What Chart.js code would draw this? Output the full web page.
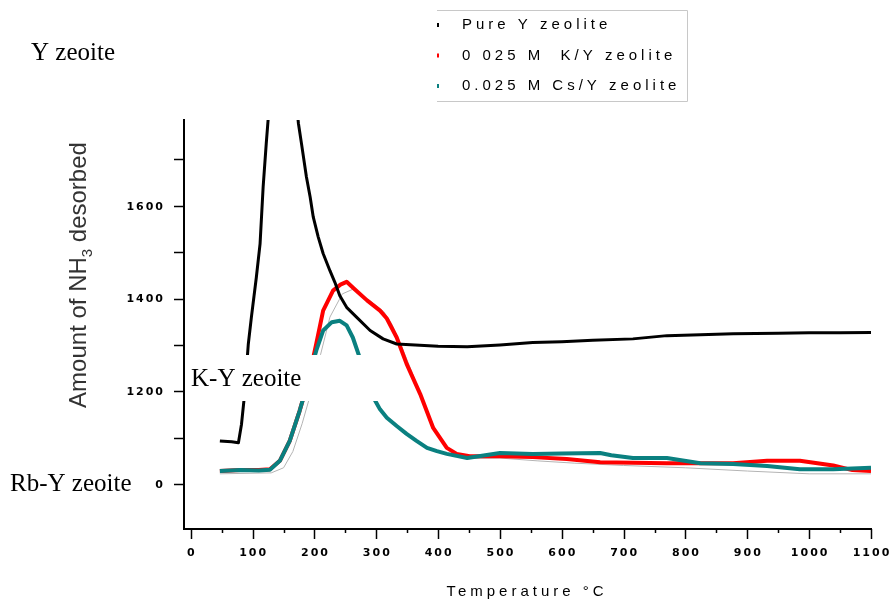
<!DOCTYPE html>
<html>
<head>
<meta charset="utf-8">
<script src="https://cdn.jsdelivr.net/npm/chart.js@4/dist/chart.umd.min.js"></script>
<style>
  html, body { margin: 0; padding: 0; background: #fff; }
  #wrap { width: 894px; height: 602px; }
</style>
</head>
<body>
<div id="wrap"><canvas id="tpd" width="894" height="602"></canvas></div>
<script>
// ---- data (temperature in °C, amount desorbed) ----
const pureT = [47, 66, 77, 82, 87, 93, 98, 106, 112, 117, 122, 125, 135, 150, 162, 174, 179, 187, 193, 198, 206, 214, 225, 233, 241, 252, 268, 290, 311, 333, 400, 447, 500, 553, 600, 650, 715, 770, 824, 877, 950, 1000, 1050, 1100];
const pureV = [1093, 1091, 1089, 1129, 1194, 1302, 1360, 1446, 1518, 1641, 1734, 1785, 1980, 2050, 1950, 1778, 1734, 1662, 1619, 1576, 1533, 1497, 1460, 1435, 1406, 1381, 1360, 1331, 1313, 1302, 1297, 1296, 1300, 1305, 1307, 1310, 1313, 1320, 1322, 1324, 1325, 1326, 1326, 1327];

const kT = [47, 80, 110, 128, 144, 160, 176, 187, 196, 203, 214, 230, 242, 252, 265, 285, 306, 317, 333, 349, 371, 392, 414, 430, 451, 500, 553, 608, 662, 715, 770, 824, 877, 932, 985, 1039, 1070, 1100];
const kV = [1028, 1030, 1030, 1032, 1050, 1093, 1158, 1208, 1260, 1303, 1374, 1417, 1430, 1436, 1420, 1396, 1374, 1357, 1316, 1259, 1194, 1121, 1078, 1065, 1060, 1060, 1058, 1054, 1047, 1046, 1045, 1045, 1045, 1050, 1050, 1040, 1030, 1028];

const csT = [47, 80, 110, 128, 144, 160, 176, 187, 196, 203, 214, 228, 241, 252, 262, 273, 285, 298, 306, 317, 333, 349, 365, 382, 398, 414, 447, 500, 553, 600, 662, 680, 715, 770, 824, 877, 932, 985, 1039, 1100];
const csV = [1028, 1030, 1029, 1031, 1050, 1093, 1158, 1208, 1255, 1288, 1331, 1349, 1352, 1342, 1316, 1273, 1225, 1180, 1161, 1143, 1125, 1108, 1093, 1078, 1071, 1065, 1056, 1067, 1065, 1066, 1067, 1062, 1056, 1056, 1045, 1043, 1039, 1032, 1032, 1035];

// faint grey trace that runs beside the coloured curves
const greyT = [47, 130, 150, 165, 180, 195, 210, 225, 245, 262, 290, 312, 325, 340, 358, 378, 398, 420, 445, 500, 560, 620, 700, 800, 900, 1000, 1100];
const greyV = [1022, 1024, 1035, 1070, 1130, 1200, 1280, 1360, 1410, 1420, 1395, 1372, 1345, 1300, 1240, 1170, 1110, 1072, 1055, 1056, 1050, 1045, 1040, 1035, 1028, 1022, 1022];

const xTicks = [0, 100, 200, 300, 400, 500, 600, 700, 800, 900, 1000, 1100];
const yTicks = [1000, 1200, 1400, 1600];
const legendLabels = ["Pure Y zeolite", "0 025 M  K/Y zeolite", "0.025 M Cs/Y zeolite"];
const legendColors = ["#000000", "#ff0000", "#0a8080"];

const toXY = (t, v) => t.map((x, i) => ({ x: x, y: v[i] }));

// axes, tick labels, legend box and the pasted-on labels
const decor = {
  id: "decor",
  afterDraw(chart) {
    const ctx = chart.ctx;
    const xs = chart.scales.x, ys = chart.scales.y;
    const area = chart.chartArea;
    ctx.save();

    // tick marks
    ctx.strokeStyle = "#000";
    ctx.lineWidth = 1.5;
    for (let v = 0; v <= 1100; v += 50) {
      const px = Math.round(xs.getPixelForValue(v)) + 0.5;
      const len = v % 100 === 0 ? 10 : 4;
      ctx.beginPath();
      ctx.moveTo(px, area.bottom);
      ctx.lineTo(px, area.bottom + len);
      ctx.stroke();
    }
    for (let v = 900; v <= 1700; v += 100) {
      const py = Math.round(ys.getPixelForValue(v)) + 0.5;
      if (py > area.bottom - 2) continue;
      ctx.beginPath();
      ctx.moveTo(area.left - 10, py);
      ctx.lineTo(area.left, py);
      ctx.stroke();
    }

    // tick labels
    ctx.fillStyle = "#000";
    ctx.font = "bold 11px 'DejaVu Sans', sans-serif";
    ctx.letterSpacing = "2px";
    ctx.textBaseline = "middle";
    ctx.textAlign = "center";
    xTicks.forEach(v => {
      ctx.fillText(String(v), xs.getPixelForValue(v) + 1, area.bottom + 24);
    });
    ctx.textAlign = "right";
    yTicks.forEach(v => {
      ctx.fillText(String(v), area.left - 19, ys.getPixelForValue(v) + 1);
    });

    // axis titles
    ctx.font = "15px 'Liberation Sans', Arial, sans-serif";
    ctx.letterSpacing = "4px";
    ctx.textAlign = "center";
    ctx.fillText("Temperature °C", 527, 592);

    ctx.letterSpacing = "0px";
    ctx.save();
    ctx.translate(79, 275);
    ctx.rotate(-Math.PI / 2);
    ctx.fillStyle = "#333";
    ctx.textAlign = "left";
    const big = "24px 'Liberation Sans', Arial, sans-serif";
    const small = "15px 'Liberation Sans', Arial, sans-serif";
    const p1 = "Amount of NH", p2 = " desorbed";
    ctx.font = big;
    const w1 = ctx.measureText(p1).width;
    const w2 = ctx.measureText(p2).width;
    ctx.font = small;
    const ws = ctx.measureText("3").width;
    const start = -(w1 + ws + w2) / 2;
    ctx.font = big;
    ctx.fillText(p1, start, 0);
    ctx.font = small;
    ctx.fillText("3", start + w1, 9);
    ctx.font = big;
    ctx.fillText(p2, start + w1 + ws, 0);
    ctx.restore();

    // legend box
    ctx.strokeStyle = "#c8c8c8";
    ctx.lineWidth = 1;
    ctx.beginPath();
    ctx.moveTo(437, 10.5); ctx.lineTo(687.5, 10.5); ctx.lineTo(687.5, 101.5); ctx.lineTo(437, 101.5);
    ctx.stroke();
    ctx.font = "15px 'Liberation Sans', Arial, sans-serif";
    ctx.letterSpacing = "4px";
    ctx.textAlign = "left";
    legendLabels.forEach((lab, i) => {
      const ly = 25 + i * 30.5;
      ctx.fillStyle = legendColors[i];
      ctx.fillRect(437, ly - 2, 2, 4);
      ctx.fillStyle = "#000";
      ctx.fillText(lab, 462, ly);
    });
    ctx.letterSpacing = "0px";

    // pasted labels on white patches
    ctx.fillStyle = "#fff";
    ctx.fillRect(188, 355, 192, 46);
    ctx.fillRect(0, 468, 154, 30);
    ctx.fillStyle = "#000";
    ctx.font = "25px 'Liberation Serif', 'Times New Roman', serif";
    ctx.textAlign = "left";
    ctx.fillText("Y zeoite", 31, 53);
    ctx.fillText("K-Y zeoite", 191, 379);
    ctx.fillText("Rb-Y zeoite", 10, 484);

    ctx.restore();
  }
};

new Chart(document.getElementById("tpd"), {
  type: "line",
  data: {
    datasets: [
      { label: legendLabels[0], data: toXY(pureT, pureV), borderColor: "#000", borderWidth: 3, order: 0 },
      { label: legendLabels[2], data: toXY(csT, csV), borderColor: "#0a8080", borderWidth: 4, order: 1 },
      { label: legendLabels[1], data: toXY(kT, kV), borderColor: "#ff0000", borderWidth: 4, order: 2 },
      { label: "grey", data: toXY(greyT, greyV), borderColor: "#b4b4b4", borderWidth: 1, order: 3 }
    ]
  },
  options: {
    responsive: false,
    devicePixelRatio: 1,
    animation: false,
    events: [],
    elements: { point: { radius: 0 }, line: { tension: 0, borderJoinStyle: "round" } },
    layout: { padding: { left: 0, right: 23, top: 120, bottom: 0 } },
    plugins: { legend: { display: false }, tooltip: { enabled: false }, title: { display: false } },
    scales: {
      x: {
        type: "linear",
        min: -11,
        max: 1100,
        grid: { display: false },
        border: { display: true, color: "#000", width: 2 },
        ticks: { display: false },
        afterFit: s => { s.height = 73; }
      },
      y: {
        min: 903,
        max: 1785,
        grid: { display: false },
        border: { display: true, color: "#000", width: 2 },
        ticks: { display: false },
        afterFit: s => { s.width = 184; }
      }
    }
  },
  plugins: [decor]
});
</script>
</body>
</html>
